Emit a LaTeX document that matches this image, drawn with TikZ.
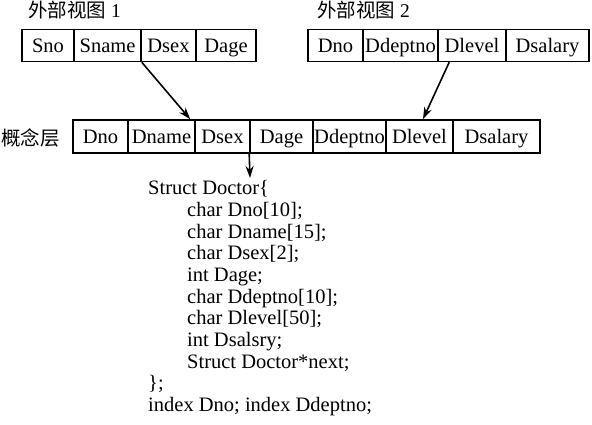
\documentclass[tikz,border=0pt]{standalone}
\usepackage{fontspec}
\setmainfont{Liberation Serif}
\newfontfamily\cjk{Noto Sans CJK SC}
\usetikzlibrary{arrows.meta}
\tikzset{
  cell/.style={draw, line width=1.6pt, inner sep=0pt, minimum height=32pt,
    text height=13.5pt, text depth=0pt, anchor=center,
    font=\fontsize{20.5}{21.65}\selectfont},
  cellc/.style={cell, minimum height=33pt},
  arr/.style={line width=1.6pt, -{Stealth[length=12pt,width=8pt]}},
  code/.style={anchor=base west, inner sep=0pt, font=\fontsize{20.5}{21.65}\selectfont},
  lab/.style={anchor=west, inner sep=0pt, font=\fontsize{19.5}{21}\selectfont}
}
\begin{document}
\begin{tikzpicture}[x=1pt,y=-1pt]
\useasboundingbox (0,0) rectangle (592,425);
% labels
\node[lab] (l1) at (28,10) {{\cjk 外部视图} 1};
\node[lab] (l2) at (317,10) {{\cjk 外部视图} 2};
\node[lab] (l3) at (1,138) {{\cjk 概念层}};
% external view 1
\node[cell, minimum width=52pt] (a1) at (48,45.5) {Sno};
\node[cell, minimum width=67pt] (a2) at (107.5,45.5) {Sname};
\node[cell, minimum width=55pt] (a3) at (168.5,45.5) {Dsex};
\node[cell, minimum width=60pt] (a4) at (226,45.5) {Dage};
% external view 2
\node[cell, minimum width=55pt] (b1) at (335.5,45.5) {Dno};
\node[cell, minimum width=75pt] (b2) at (400.5,45.5) {Ddeptno};
\node[cell, minimum width=68pt] (b3) at (472,45.5) {Dlevel};
\node[cell, minimum width=83pt] (b4) at (547.5,45.5) {Dsalary};
% conceptual level
\node[cellc, minimum width=55pt] (c1) at (100.5,136.5) {Dno};
\node[cellc, minimum width=67pt] (c2) at (161.5,136.5) {Dname};
\node[cellc, minimum width=55pt] (c3) at (222.5,136.5) {Dsex};
\node[cellc, minimum width=63pt] (c4) at (281.5,136.5) {Dage};
\node[cellc, minimum width=73pt] (c5) at (349.5,136.5) {Ddeptno};
\node[cellc, minimum width=67pt] (c6) at (419.5,136.5) {Dlevel};
\node[cellc, minimum width=87pt] (c7) at (496.5,136.5) {Dsalary};
% arrows
\draw[arr] (a2.south east) -- ([xshift=-4pt]c3.north west);
\draw[arr] ([xshift=12pt]b3.south west) -- ([xshift=3.5pt]c6.north);
\coordinate (d) at (250,178);
\draw[arr] (c4.south west) -- (d);
% code
\node[code] (s0) at (148,195) {Struct Doctor\{};
\node[code] (s1) at (187,216.65) {char Dno[10];};
\node[code] (s2) at (187,238.3) {char Dname[15];};
\node[code] (s3) at (187,259.95) {char Dsex[2];};
\node[code] (s4) at (187,281.6) {int Dage;};
\node[code] (s5) at (187,303.25) {char Ddeptno[10];};
\node[code] (s6) at (187,324.9) {char Dlevel[50];};
\node[code] (s7) at (187,346.55) {int Dsalsry;};
\node[code] (s8) at (187,368.2) {Struct Doctor*next;};
\node[code] (s9) at (148,389.85) {\};};
\node[code] (s10) at (148,411.5) {index Dno; index Ddeptno;};
\end{tikzpicture}
\end{document}
